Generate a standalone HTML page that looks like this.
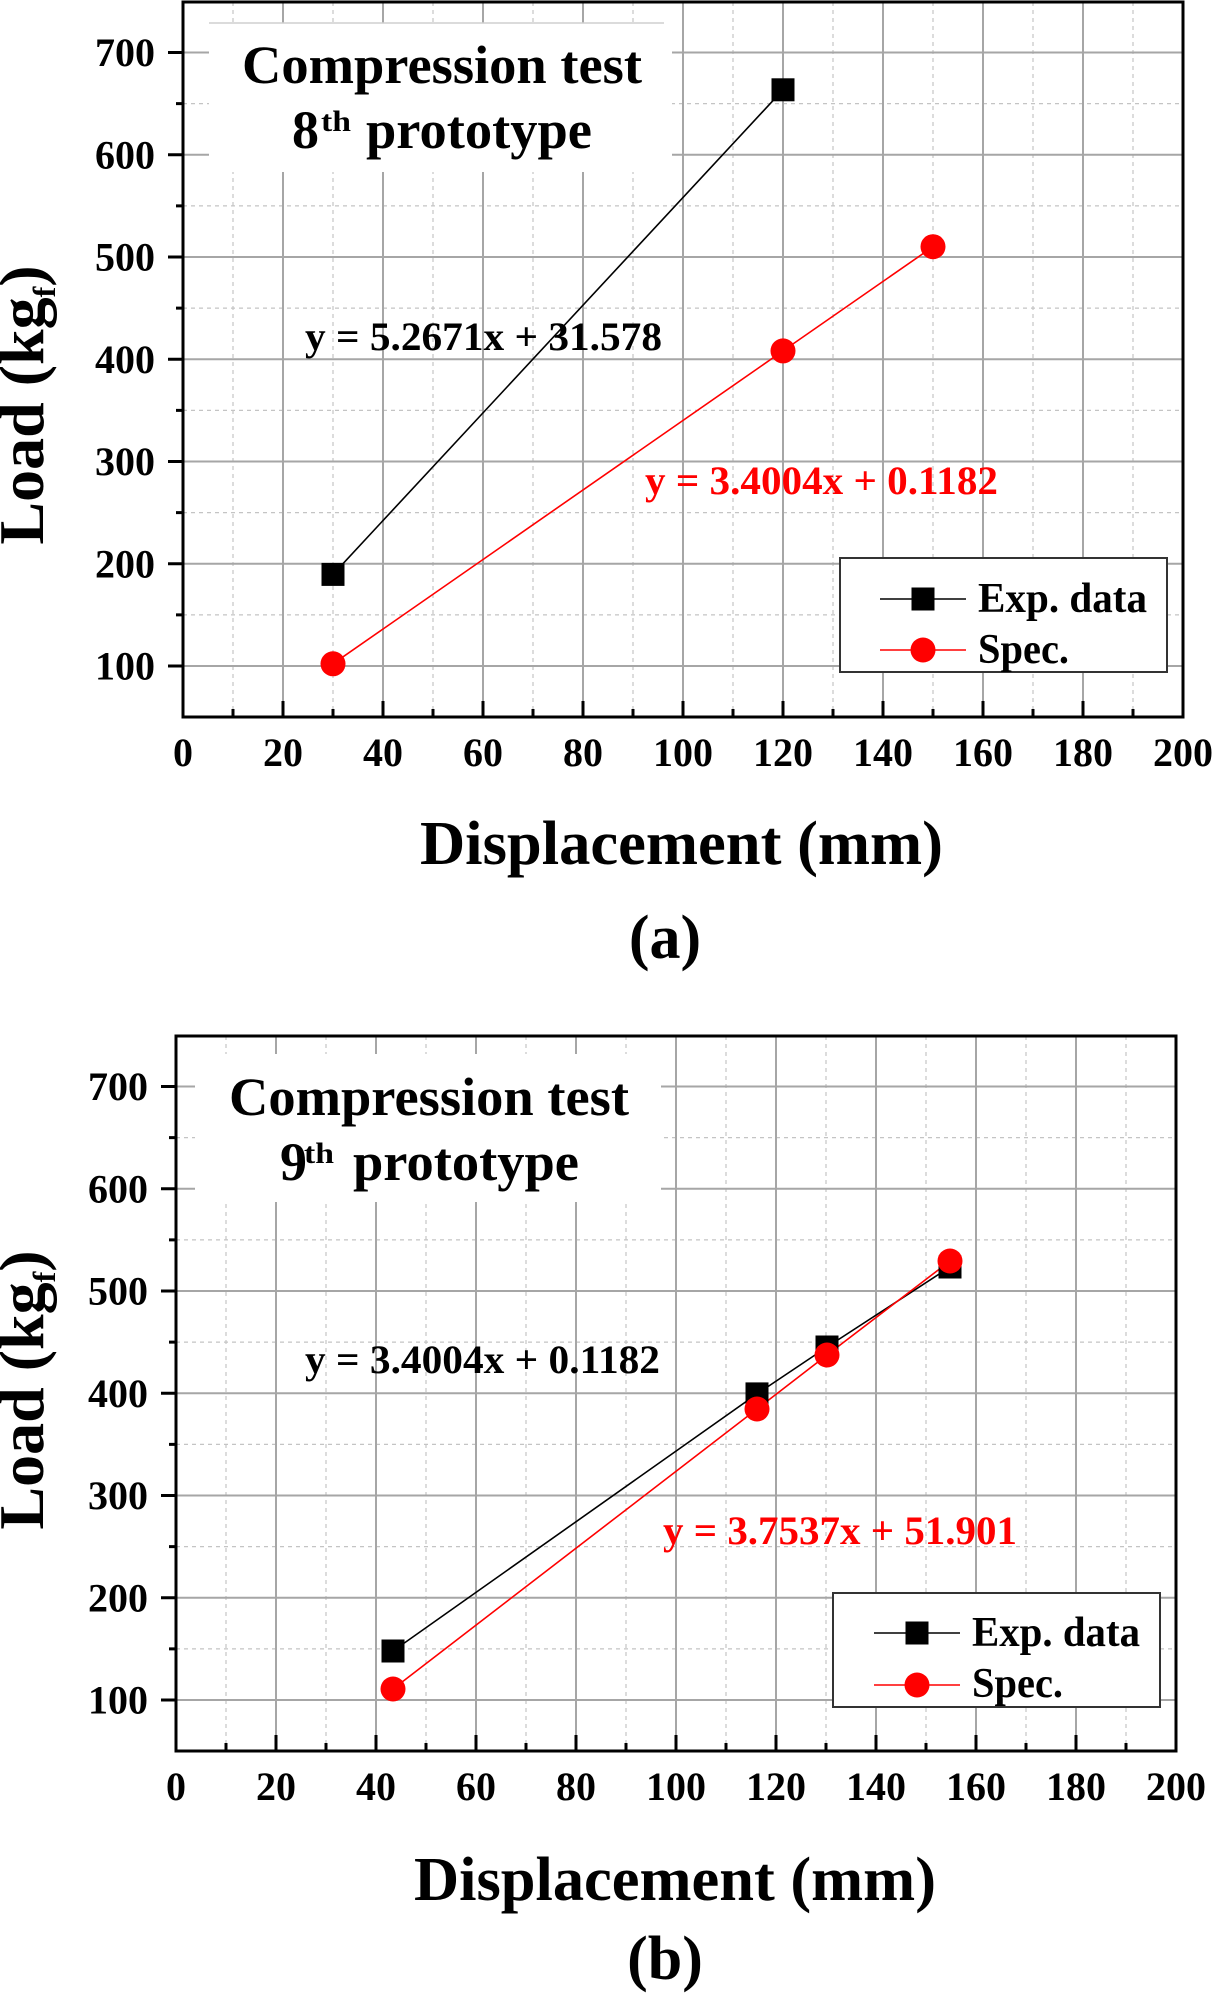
<!DOCTYPE html>
<html><head><meta charset="utf-8"><style>
html,body{margin:0;padding:0;background:#fff;}
svg{display:block;}
text{font-family:"Liberation Serif","Times New Roman",serif;font-weight:bold;}
</style></head><body>
<svg width="1213" height="1995" viewBox="0 0 1213 1995" xmlns="http://www.w3.org/2000/svg">
<rect x="0" y="0" width="1213" height="1995" fill="#fff"/>

<!-- ===================== PANEL A ===================== -->
<g id="frameA">
  <!-- minor grid -->
  <g stroke="#c4c4c4" stroke-width="1.2" stroke-dasharray="4 4" fill="none">
    <path d="M233 2V717M333 2V717M433 2V717M533 2V717M633 2V717M733 2V717M833 2V717M933 2V717M1033 2V717M1133 2V717"/>
    <path d="M183 103.6H1183M183 205.9H1183M183 308.1H1183M183 410.4H1183M183 512.6H1183M183 614.9H1183"/>
  </g>
  <!-- major grid -->
  <g stroke="#a6a6a6" stroke-width="2" fill="none">
    <path d="M283 2V717M383 2V717M483 2V717M583 2V717M683 2V717M783 2V717M883 2V717M983 2V717M1083 2V717"/>
    <path d="M183 52.5H1183M183 154.75H1183M183 257H1183M183 359.25H1183M183 461.5H1183M183 563.75H1183M183 666H1183"/>
  </g>
  <!-- legend box -->
  <rect x="840" y="558" width="327" height="114" fill="#fff" stroke="#333" stroke-width="2"/>
  <!-- ticks -->
  <g stroke="#000" stroke-width="3" fill="none">
    <path d="M168 52.5H183M168 154.75H183M168 257H183M168 359.25H183M168 461.5H183M168 563.75H183M168 666H183"/>
    <path d="M176 103.6H183M176 205.9H183M176 308.1H183M176 410.4H183M176 512.6H183M176 614.9H183"/>
    <path d="M283 717V701M383 717V701M483 717V701M583 717V701M683 717V701M783 717V701M883 717V701M983 717V701M1083 717V701"/>
    <path d="M233 717V709M333 717V709M433 717V709M533 717V709M633 717V709M733 717V709M833 717V709M933 717V709M1033 717V709M1133 717V709"/>
  </g>
  <!-- tick labels -->
  <g font-size="40" fill="#000" text-anchor="end">
    <text x="155" y="66">700</text>
    <text x="155" y="168.25">600</text>
    <text x="155" y="270.5">500</text>
    <text x="155" y="372.75">400</text>
    <text x="155" y="475">300</text>
    <text x="155" y="577.25">200</text>
    <text x="155" y="679.5">100</text>
  </g>
  <g font-size="40" fill="#000" text-anchor="middle">
    <text x="183" y="766">0</text>
    <text x="283" y="766">20</text>
    <text x="383" y="766">40</text>
    <text x="483" y="766">60</text>
    <text x="583" y="766">80</text>
    <text x="683" y="766">100</text>
    <text x="783" y="766">120</text>
    <text x="883" y="766">140</text>
    <text x="983" y="766">160</text>
    <text x="1083" y="766">180</text>
    <text x="1183" y="766">200</text>
  </g>
</g>

<!-- title box A -->
<rect x="209" y="23" width="463" height="149" fill="#fff"/>
<line x1="209" y1="23" x2="664" y2="23" stroke="#cfcfcf" stroke-width="1.5"/>
<text x="242" y="83" font-size="54" textLength="400" lengthAdjust="spacingAndGlyphs">Compression test</text>
<text x="292" y="148" font-size="54">8</text>
<text x="321" y="131" font-size="30" textLength="30" lengthAdjust="spacingAndGlyphs">th</text>
<text x="366" y="148" font-size="54" textLength="226" lengthAdjust="spacingAndGlyphs">prototype</text>

<!-- data A -->
<polyline points="333,574.4 783,89.8" fill="none" stroke="#000" stroke-width="1.6"/>
<polyline points="333,663.8 783,350.9 933,246.7" fill="none" stroke="#ff0000" stroke-width="1.6"/>
<rect x="321.5" y="562.9" width="23" height="23" fill="#000"/>
<rect x="771.5" y="78.3" width="23" height="23" fill="#000"/>
<circle cx="333" cy="663.8" r="12.5" fill="#ff0000"/>
<circle cx="783" cy="350.9" r="12.5" fill="#ff0000"/>
<circle cx="933" cy="246.7" r="12.5" fill="#ff0000"/>

<!-- legend A content -->
<line x1="880" y1="599" x2="966" y2="599" stroke="#000" stroke-width="1.6"/>
<rect x="911.5" y="587.5" width="23" height="23" fill="#000"/>
<line x1="880" y1="650" x2="966" y2="650" stroke="#ff0000" stroke-width="1.6"/>
<circle cx="923" cy="650" r="12.5" fill="#ff0000"/>
<text x="978" y="612" font-size="42" textLength="169" lengthAdjust="spacingAndGlyphs">Exp. data</text>
<text x="978" y="663" font-size="42" textLength="91" lengthAdjust="spacingAndGlyphs">Spec.</text>

<!-- equations A -->
<text x="305" y="350" font-size="40" textLength="357" lengthAdjust="spacingAndGlyphs">y = 5.2671x + 31.578</text>
<text x="645" y="494" font-size="40" fill="#ff0000" textLength="353" lengthAdjust="spacingAndGlyphs">y = 3.4004x + 0.1182</text>

<!-- axes frame A -->
<rect x="183" y="2" width="1000" height="715" fill="none" stroke="#000" stroke-width="3"/>

<!-- axis titles A -->
<text x="420" y="864" font-size="62" textLength="523" lengthAdjust="spacingAndGlyphs">Displacement (mm)</text>
<text transform="translate(43,405) rotate(-90)" text-anchor="middle" font-size="64">Load (kg<tspan font-size="32" dy="12">f</tspan><tspan dy="-12">)</tspan></text>
<text x="665" y="958" font-size="62" text-anchor="middle">(a)</text>

<!-- ===================== PANEL B ===================== -->
<g transform="translate(-7,1034)">
  <g stroke="#c4c4c4" stroke-width="1.2" stroke-dasharray="4 4" fill="none">
    <path d="M233 2V717M333 2V717M433 2V717M533 2V717M633 2V717M733 2V717M833 2V717M933 2V717M1033 2V717M1133 2V717"/>
    <path d="M183 103.6H1183M183 205.9H1183M183 308.1H1183M183 410.4H1183M183 512.6H1183M183 614.9H1183"/>
  </g>
  <g stroke="#a6a6a6" stroke-width="2" fill="none">
    <path d="M283 2V717M383 2V717M483 2V717M583 2V717M683 2V717M783 2V717M883 2V717M983 2V717M1083 2V717"/>
    <path d="M183 52.5H1183M183 154.75H1183M183 257H1183M183 359.25H1183M183 461.5H1183M183 563.75H1183M183 666H1183"/>
  </g>
  <rect x="840" y="559" width="327" height="114" fill="#fff" stroke="#333" stroke-width="2"/>
  <g stroke="#000" stroke-width="3" fill="none">
    <path d="M168 52.5H183M168 154.75H183M168 257H183M168 359.25H183M168 461.5H183M168 563.75H183M168 666H183"/>
    <path d="M176 103.6H183M176 205.9H183M176 308.1H183M176 410.4H183M176 512.6H183M176 614.9H183"/>
    <path d="M283 717V701M383 717V701M483 717V701M583 717V701M683 717V701M783 717V701M883 717V701M983 717V701M1083 717V701"/>
    <path d="M233 717V709M333 717V709M433 717V709M533 717V709M633 717V709M733 717V709M833 717V709M933 717V709M1033 717V709M1133 717V709"/>
  </g>
  <g font-size="40" fill="#000" text-anchor="end">
    <text x="155" y="66">700</text>
    <text x="155" y="168.25">600</text>
    <text x="155" y="270.5">500</text>
    <text x="155" y="372.75">400</text>
    <text x="155" y="475">300</text>
    <text x="155" y="577.25">200</text>
    <text x="155" y="679.5">100</text>
  </g>
  <g font-size="40" fill="#000" text-anchor="middle">
    <text x="183" y="766">0</text>
    <text x="283" y="766">20</text>
    <text x="383" y="766">40</text>
    <text x="483" y="766">60</text>
    <text x="583" y="766">80</text>
    <text x="683" y="766">100</text>
    <text x="783" y="766">120</text>
    <text x="883" y="766">140</text>
    <text x="983" y="766">160</text>
    <text x="1083" y="766">180</text>
    <text x="1183" y="766">200</text>
  </g>
</g>

<!-- title box B -->
<rect x="195" y="1054" width="466" height="148" fill="#fff"/>
<text x="229" y="1115" font-size="54" textLength="400" lengthAdjust="spacingAndGlyphs">Compression test</text>
<text x="280" y="1180" font-size="54">9</text>
<text x="304" y="1163" font-size="30" textLength="30" lengthAdjust="spacingAndGlyphs">th</text>
<text x="353" y="1180" font-size="54" textLength="226" lengthAdjust="spacingAndGlyphs">prototype</text>

<!-- data B -->
<polyline points="393,1651 757,1393.9 827,1347 950,1267" fill="none" stroke="#000" stroke-width="1.6"/>
<polyline points="393,1689 757,1409 827,1355 950,1261" fill="none" stroke="#ff0000" stroke-width="1.6"/>
<rect x="381.5" y="1639.5" width="23" height="23" fill="#000"/>
<rect x="745.5" y="1382.4" width="23" height="23" fill="#000"/>
<rect x="815.5" y="1335.5" width="23" height="23" fill="#000"/>
<rect x="938.5" y="1255.5" width="23" height="23" fill="#000"/>
<circle cx="393" cy="1689" r="12.5" fill="#ff0000"/>
<circle cx="757" cy="1409" r="12.5" fill="#ff0000"/>
<circle cx="827" cy="1355" r="12.5" fill="#ff0000"/>
<circle cx="950" cy="1261" r="12.5" fill="#ff0000"/>

<!-- legend B content -->
<line x1="874" y1="1633" x2="960" y2="1633" stroke="#000" stroke-width="1.6"/>
<rect x="905.5" y="1621.5" width="23" height="23" fill="#000"/>
<line x1="874" y1="1685" x2="960" y2="1685" stroke="#ff0000" stroke-width="1.6"/>
<circle cx="917" cy="1685" r="12.5" fill="#ff0000"/>
<text x="972" y="1646" font-size="42" textLength="168" lengthAdjust="spacingAndGlyphs">Exp. data</text>
<text x="972" y="1697" font-size="42" textLength="91" lengthAdjust="spacingAndGlyphs">Spec.</text>

<!-- equations B -->
<text x="305" y="1373" font-size="40" textLength="355" lengthAdjust="spacingAndGlyphs">y = 3.4004x + 0.1182</text>
<text x="663" y="1544" font-size="40" fill="#ff0000" textLength="354" lengthAdjust="spacingAndGlyphs">y = 3.7537x + 51.901</text>

<!-- axes frame B -->
<rect x="176" y="1036" width="1000" height="715" fill="none" stroke="#000" stroke-width="3"/>

<!-- axis titles B -->
<text x="414" y="1900" font-size="62" textLength="522" lengthAdjust="spacingAndGlyphs">Displacement (mm)</text>
<text transform="translate(43,1390) rotate(-90)" text-anchor="middle" font-size="64">Load (kg<tspan font-size="32" dy="12">f</tspan><tspan dy="-12">)</tspan></text>
<text x="665" y="1979" font-size="62" text-anchor="middle">(b)</text>
</svg>
</body></html>
